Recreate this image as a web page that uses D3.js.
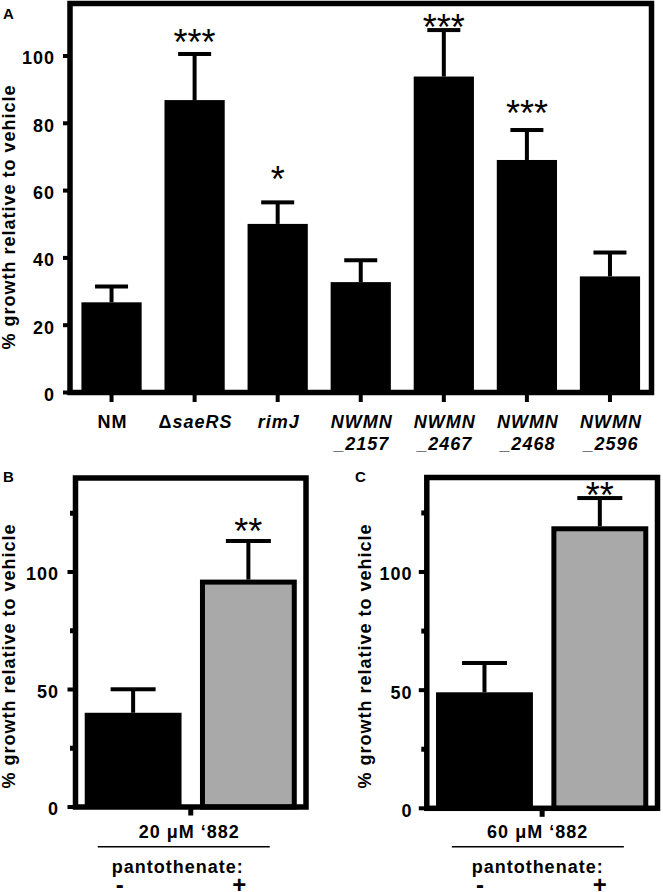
<!DOCTYPE html>
<html>
<head>
<meta charset="utf-8">
<script src="https://cdn.jsdelivr.net/npm/d3@7"></script>
<style>
  html, body { margin: 0; padding: 0; background: #fff; }
  svg { display: block; }
  text { font-family: "Liberation Sans", Arial, Helvetica, sans-serif; }
</style>
</head>
<body>
<svg id="chart" width="663" height="892"></svg>
<script>
// ---------------- DATA ----------------
// Panel A
const categoriesA = ["NM", "ΔsaeRS", "rimJ", "NWMN_2157", "NWMN_2467", "NWMN_2468", "NWMN_2596"];
const meansA = [26.8, 86.9, 50.1, 32.8, 93.9, 69.1, 34.5];
const errorsA = [4.7, 13.7, 6.4, 6.5, 13.8, 8.9, 7.1];
const sigA = ["", "***", "*", "", "***", "***", ""];
const sigLevelA = [null, 104.8, 64.3, null, 109.5, 83.9, null];   // value at foot of asterisks
const ticksA = [0, 20, 40, 60, 80, 100];
const yMaxA = 115.6;

// Panels B and C
const pantothenate = ["-", "+"];
const meansB = [40.1, 95.7];
const errorsB = [10.0, 17.5];
const sigB = ["", "**"];
const sigLevelB = [null, 118.6];
const meansC = [49.1, 118.3];
const errorsC = [12.4, 13.0];
const sigC = ["", "**"];
const sigLevelC = [null, 133.8];
const majorTicksBC = [0, 50, 100];
const minorTicksBC = [25, 75, 125];
const yMaxBC = 140;
const doseB = "20 μM ‘882";
const doseC = "60 μM ‘882";
const yTitle = "% growth relative to vehicle";

// ---------------- DRAW ----------------
const svg = d3.select("#chart");
const FW = 5.5;        // frame width
const starFs = 36;

function frame(g, x0, x1, y0, y1) {
  g.append("rect")
    .attr("x", x0).attr("y", y0)
    .attr("width", x1 - x0).attr("height", y1 - y0)
    .attr("fill", "none").attr("stroke", "#000").attr("stroke-width", FW);
}

function errorBar(g, cx, yTop, yCap, capW) {
  g.append("rect").attr("x", cx - 2).attr("y", yCap).attr("width", 4).attr("height", yTop - yCap).attr("fill", "#000");
  g.append("rect").attr("x", cx - capW / 2).attr("y", yCap - 2).attr("width", capW).attr("height", 4).attr("fill", "#000");
}

function stars(g, cx, yFoot, s) {
  g.append("text")
    .attr("x", cx).attr("y", yFoot + 0.43 * starFs)
    .attr("text-anchor", "middle")
    .attr("font-size", starFs)
    .attr("font-weight", "normal")
    .text(s);
}

// ===== Panel A =====
(function () {
  const L = 70, R = 651.5, T = 3.5, B = 392.5;
  const g = svg.append("g");
  const x = d3.scaleBand().domain(categoriesA).range([L, R]).paddingInner(0.275).paddingOuter(0.1375);
  const y = d3.scaleLinear().domain([0, yMaxA]).range([B, T]);

  categoriesA.forEach((c, i) => {
    g.append("rect")
      .attr("x", x(c)).attr("y", y(meansA[i]))
      .attr("width", x.bandwidth()).attr("height", y(0) - y(meansA[i]))
      .attr("fill", "#000");
    const cx = x(c) + x.bandwidth() / 2;
    errorBar(g, cx, y(meansA[i]), y(meansA[i] + errorsA[i]), 33);
    if (sigA[i]) stars(g, cx, y(sigLevelA[i]), sigA[i]);
    // x tick
    g.append("rect").attr("x", cx - 2).attr("y", B).attr("width", 4).attr("height", 9.5).attr("fill", "#000");
  });

  // y ticks + labels
  ticksA.forEach(t => {
    g.append("rect").attr("x", L - 7).attr("y", y(t) - 2).attr("width", 7).attr("height", 4).attr("fill", "#000");
    g.append("text")
      .attr("x", L - 15).attr("y", y(t) + 0.358 * 18 + 2)
      .attr("text-anchor", "end").attr("font-size", 18).attr("font-weight", "bold")
      .attr("letter-spacing", 1)
      .text(t);
  });

  // x labels
  categoriesA.forEach((c, i) => {
    const cx = x(c) + x.bandwidth() / 2 + 1;
    const t = g.append("text").attr("x", cx).attr("y", 428)
      .attr("text-anchor", "middle").attr("font-size", 18).attr("font-weight", "bold")
      .attr("letter-spacing", 1);
    if (c === "NM") {
      t.text(c);
    } else if (c.startsWith("Δ")) {
      t.append("tspan").text("Δ");
      t.append("tspan").attr("font-style", "italic").text(c.slice(1));
    } else if (c.includes("_")) {
      const parts = c.split("_");
      t.attr("font-style", "italic").text(parts[0]);
      g.append("text").attr("x", cx).attr("y", 450)
        .attr("text-anchor", "middle").attr("font-size", 18).attr("font-weight", "bold")
        .attr("font-style", "italic").attr("letter-spacing", 1)
        .text("_" + parts[1]);
    } else {
      t.attr("font-style", "italic").text(c);
    }
  });

  frame(g, L, R, T, B);

  g.append("text").attr("transform", `translate(15,217) rotate(-90)`)
    .attr("text-anchor", "middle").attr("font-size", 18).attr("font-weight", "bold")
    .attr("letter-spacing", 1).text(yTitle);

  g.append("text").attr("x", 3).attr("y", 18.5).attr("font-size", 15).attr("font-weight", "bold").text("A");
})();

// ===== Panels B, C =====
function smallPanel(opt) {
  const { L, R, T, B, means, errors, sig, sigLevel, dose, letter, letterX, titleX, tickLabelX, lay } = opt;
  const g = svg.append("g");
  const x = d3.scaleBand().domain(pantothenate).range([L, R]).paddingInner(0.16).paddingOuter(0.08);
  const y = d3.scaleLinear().domain([0, yMaxBC]).range([B, T]);
  const fills = ["#000", "#a9a9a9"];

  pantothenate.forEach((p, i) => {
    const v = means[i];
    if (i === 0) {
      g.append("rect").attr("x", x(p)).attr("y", y(v))
        .attr("width", x.bandwidth()).attr("height", y(0) - y(v)).attr("fill", fills[i]);
    } else {
      g.append("rect").attr("x", x(p) + 2.5).attr("y", y(v))
        .attr("width", x.bandwidth() - 5).attr("height", y(0) - y(v))
        .attr("fill", fills[i]).attr("stroke", "#000").attr("stroke-width", 5);
    }
    const cx = x(p) + x.bandwidth() / 2;
    errorBar(g, cx, y(v) - (i === 1 ? 2.5 : 0), y(v + errors[i]), 45);
    if (sig[i]) stars(g, cx, y(sigLevel[i]), sig[i]);
  });

  // y ticks
  majorTicksBC.forEach(t => {
    g.append("rect").attr("x", L - 8).attr("y", y(t) - 2).attr("width", 8).attr("height", 4).attr("fill", "#000");
    g.append("text").attr("x", tickLabelX).attr("y", y(t) + 0.358 * 18 + 2)
      .attr("text-anchor", "end").attr("font-size", 18).attr("font-weight", "bold")
      .attr("letter-spacing", 1).text(t);
  });
  minorTicksBC.forEach(t => {
    g.append("rect").attr("x", L - 5.5).attr("y", y(t) - 2.5).attr("width", 5.5).attr("height", 5).attr("fill", "#000");
  });

  // single x tick between bars
  const mid = (L + R) / 2;
  g.append("rect").attr("x", mid - 2.5).attr("y", B).attr("width", 5).attr("height", 8.5).attr("fill", "#000");

  frame(g, L, R, T, B);

  // dose label, line, pantothenate
  g.append("text").attr("x", mid + lay.doseDx).attr("y", 838)
    .attr("text-anchor", "middle").attr("font-size", 18).attr("font-weight", "bold")
    .attr("letter-spacing", 1).text(dose);
  g.append("line").attr("x1", mid + lay.lineDx - 86).attr("x2", mid + lay.lineDx + 86)
    .attr("y1", 846.7).attr("y2", 846.7).attr("stroke", "#000").attr("stroke-width", 1.6);
  g.append("text").attr("x", mid + lay.pantoDx).attr("y", 873)
    .attr("text-anchor", "middle").attr("font-size", 18).attr("font-weight", "bold")
    .attr("letter-spacing", 1).text("pantothenate:");
  pantothenate.forEach((p, i) => {
    g.append("text").attr("x", x(p) + x.bandwidth() / 2 + lay.signDx[i]).attr("y", 893)
      .attr("text-anchor", "middle").attr("font-size", 24).attr("font-weight", "bold").text(p);
  });

  g.append("text").attr("transform", `translate(${titleX},656) rotate(-90)`)
    .attr("text-anchor", "middle").attr("font-size", 18).attr("font-weight", "bold")
    .attr("letter-spacing", 1).text(yTitle);

  g.append("text").attr("x", letterX).attr("y", 482).attr("font-size", 15).attr("font-weight", "bold").text(letter);
}

smallPanel({
  L: 75.5, R: 306, T: 478, B: 807,
  means: meansB, errors: errorsB, sig: sigB, sigLevel: sigLevelB,
  dose: doseB, letter: "B", letterX: 3, titleX: 15, tickLabelX: 59,
  lay: { doseDx: -1.5, lineDx: -7, pantoDx: -13, signDx: [-13.5, -9] }
});
smallPanel({
  L: 426.8, R: 657.5, T: 477.5, B: 808.3,
  means: meansC, errors: errorsC, sig: sigC, sigLevel: sigLevelC,
  dose: doseC, letter: "C", letterX: 355, titleX: 371, tickLabelX: 412.5,
  lay: { doseDx: -4.5, lineDx: -4.3, pantoDx: -4.5, signDx: [-4.5, 0] }
});
</script>
</body>
</html>
